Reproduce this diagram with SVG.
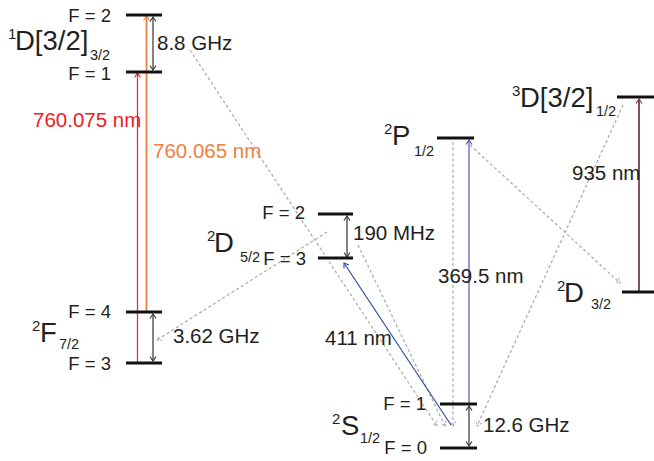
<svg xmlns="http://www.w3.org/2000/svg" width="654" height="461" viewBox="0 0 654 461">
<style>
text{font-family:"Liberation Sans",Arial,sans-serif;fill:#231f20}
.f{font-size:18.5px;text-anchor:end}
.big{font-size:27.5px}
.sup{font-size:15px}
.sub{font-size:14.5px}
.lab{font-size:20.5px}
.lvl{stroke:#111;stroke-width:3}
.dash{stroke:#a8a8a8;stroke-width:1.2;stroke-dasharray:3 2.5;fill:none}
.dbl{stroke:#333;stroke-width:1.2;fill:none;marker-start:url(#mk);marker-end:url(#mk)}
</style>
<defs>
<marker id="mk" viewBox="-6 -4 7 8" refX="0" refY="0" markerWidth="7" markerHeight="8" markerUnits="userSpaceOnUse" orient="auto-start-reverse"><path d="M-4.5,-3 L0,0 L-4.5,3" fill="none" stroke="#333" stroke-width="1.1"/></marker>
<marker id="mr" viewBox="-6 -4 7 8" refX="0" refY="0" markerWidth="7" markerHeight="8" markerUnits="userSpaceOnUse" orient="auto"><path d="M-4.5,-3 L0,0 L-4.5,3" fill="none" stroke="#ee1c25" stroke-width="1.1"/></marker>
<marker id="mo" viewBox="-6 -4 7 8" refX="0" refY="0" markerWidth="7" markerHeight="8" markerUnits="userSpaceOnUse" orient="auto"><path d="M-4.5,-3 L0,0 L-4.5,3" fill="none" stroke="#f08040" stroke-width="1.1"/></marker>
<marker id="mb" viewBox="-6 -4 7 8" refX="0" refY="0" markerWidth="7" markerHeight="8" markerUnits="userSpaceOnUse" orient="auto"><path d="M-4.5,-3 L0,0 L-4.5,3" fill="none" stroke="#2f4ea8" stroke-width="1.1"/></marker>
<marker id="mp" viewBox="-6 -4 7 8" refX="0" refY="0" markerWidth="7" markerHeight="8" markerUnits="userSpaceOnUse" orient="auto"><path d="M-4.5,-3 L0,0 L-4.5,3" fill="none" stroke="#5a4fa8" stroke-width="1.1"/></marker>
<marker id="mm" viewBox="-6 -4 7 8" refX="0" refY="0" markerWidth="7" markerHeight="8" markerUnits="userSpaceOnUse" orient="auto"><path d="M-4.5,-3 L0,0 L-4.5,3" fill="none" stroke="#7a3a4c" stroke-width="1.1"/></marker>
<marker id="mg" viewBox="-6 -4 7 8" refX="0" refY="0" markerWidth="7" markerHeight="8" markerUnits="userSpaceOnUse" orient="auto"><path d="M-4.5,-3 L0,0 L-4.5,3" fill="none" stroke="#a8a8a8" stroke-width="1.1" stroke-dasharray="2 1.5"/></marker>
</defs>

<g id="connectors">
<line class="dash" x1="190" y1="50" x2="437" y2="426" marker-end="url(#mg)"/>
<line class="dash" x1="358" y1="245" x2="445" y2="426" marker-end="url(#mg)"/>
<line class="dash" x1="453" y1="142" x2="453" y2="426" marker-end="url(#mg)"/>
<line class="dash" x1="623" y1="105" x2="477" y2="426" marker-end="url(#mg)"/>
<line class="dash" x1="327" y1="232" x2="157" y2="340" marker-end="url(#mg)"/>
<line class="dash" x1="470" y1="145" x2="620" y2="283" marker-end="url(#mg)"/>
<line x1="137.5" y1="362" x2="137.5" y2="73" stroke="#ee1c25" stroke-width="1.2" marker-end="url(#mr)"/>
<line x1="146.5" y1="311" x2="146.5" y2="16" stroke="#f08040" stroke-width="1.8" marker-end="url(#mo)"/>
<line class="dbl" x1="153" y1="17" x2="153" y2="70"/>
<line class="dbl" x1="153" y1="314" x2="153" y2="361"/>
<line class="dbl" x1="347" y1="216" x2="347" y2="257"/>
<line class="dbl" x1="469" y1="406" x2="469" y2="446"/>
<line x1="451" y1="425" x2="344" y2="263" stroke="#2f4ea8" stroke-width="1.2" marker-end="url(#mb)"/>
<line x1="469" y1="403" x2="469" y2="140" stroke="#5a4fa8" stroke-width="1.2" marker-end="url(#mp)"/>
<line x1="639" y1="291" x2="639" y2="99" stroke="#7a3a4c" stroke-width="1.8" marker-end="url(#mm)"/>
</g>

<g id="D1_3-2">
<line class="lvl" x1="126" y1="15" x2="162" y2="15"/>
<line class="lvl" x1="126" y1="72" x2="162" y2="72"/>
<text class="f" x="111" y="22">F = 2</text>
<text class="f" x="111" y="80">F = 1</text>
<text class="sup" x="8" y="39">1</text>
<text class="big" x="15" y="50">D[3/2]</text>
<text class="sub" x="90" y="60">3/2</text>
<text class="lab" x="157" y="50">8.8 GHz</text>
<text class="lab" x="33" y="127" style="fill:#ee1c25">760.075 nm</text>
<text class="lab" x="153" y="158" style="fill:#f08040">760.065 nm</text>
</g>

<g id="F7-2">
<line class="lvl" x1="126" y1="312" x2="162" y2="312"/>
<line class="lvl" x1="126" y1="363" x2="162" y2="363"/>
<text class="f" x="111" y="318">F = 4</text>
<text class="f" x="111" y="370">F = 3</text>
<text class="sup" x="32" y="331">2</text>
<text class="big" x="40" y="342">F</text>
<text class="sub" x="59" y="349">7/2</text>
<text class="lab" x="173" y="343">3.62 GHz</text>
</g>

<g id="D5-2">
<line class="lvl" x1="318" y1="214" x2="353" y2="214"/>
<line class="lvl" x1="318" y1="258" x2="353" y2="258"/>
<text class="f" x="305" y="219">F = 2</text>
<text class="f" x="306" y="265">F = 3</text>
<text class="sup" x="207" y="241">2</text>
<text class="big" x="214" y="252">D</text>
<text class="sub" x="240" y="262">5/2</text>
<text class="lab" x="353" y="240">190 MHz</text>
</g>

<g id="P1-2">
<line class="lvl" x1="437" y1="138" x2="474" y2="138"/>
<text class="sup" x="384" y="134">2</text>
<text class="big" x="392" y="145">P</text>
<text class="sub" x="414" y="156">1/2</text>
<text class="lab" x="438" y="283">369.5 nm</text>
</g>

<g id="D3_1-2">
<line class="lvl" x1="617" y1="97" x2="654" y2="97"/>
<text class="sup" x="512" y="96">3</text>
<text class="big" x="520" y="107">D[3/2]</text>
<text class="sub" x="596" y="116">1/2</text>
<text class="lab" x="572" y="180">935 nm</text>
</g>

<g id="D3-2">
<line class="lvl" x1="622" y1="292" x2="654" y2="292"/>
<text class="sup" x="557" y="291">2</text>
<text class="big" x="564" y="302">D</text>
<text class="sub" x="591" y="309">3/2</text>
</g>

<g id="S1-2">
<line class="lvl" x1="440" y1="404" x2="477" y2="404"/>
<line class="lvl" x1="440" y1="448" x2="477" y2="448"/>
<text class="f" x="426" y="410">F = 1</text>
<text class="f" x="427" y="454">F = 0</text>
<text class="sup" x="332" y="424">2</text>
<text class="big" x="341" y="435">S</text>
<text class="sub" x="360" y="443">1/2</text>
<text class="lab" x="325" y="345">411 nm</text>
<text class="lab" x="483" y="432">12.6 GHz</text>
</g>
</svg>
